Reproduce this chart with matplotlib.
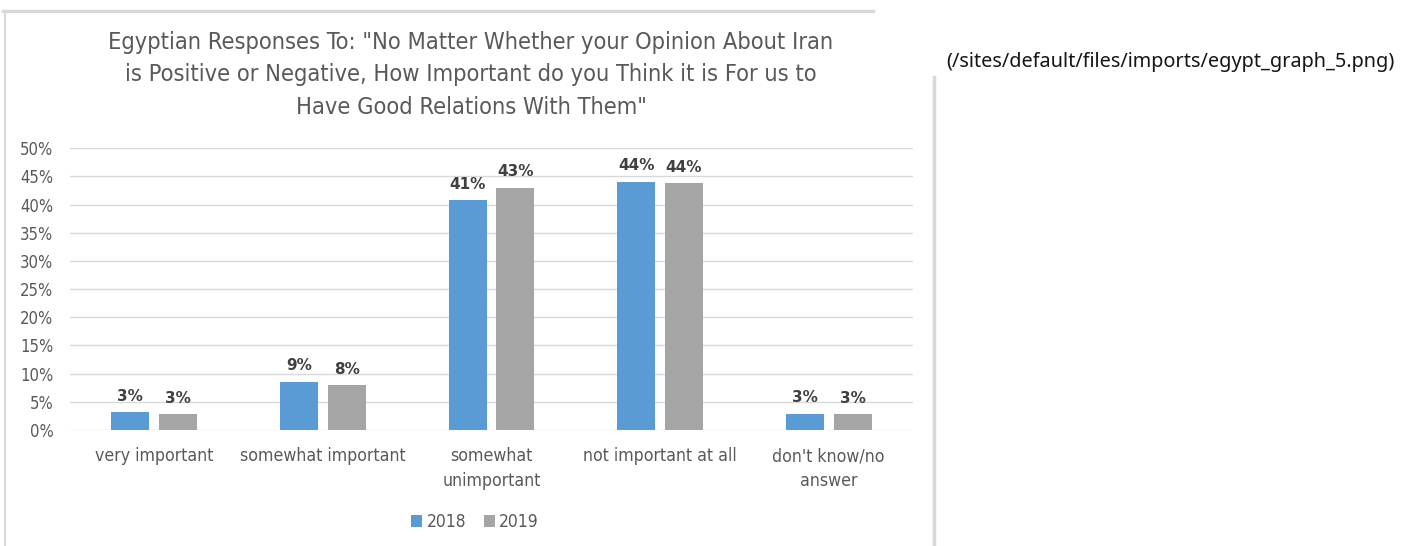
import matplotlib
matplotlib.use('Agg')
import matplotlib.pyplot as plt
from matplotlib.lines import Line2D
import numpy as np

categories = ['very important', 'somewhat important', 'somewhat\nunimportant',
              'not important at all', "don't know/no\nanswer"]
series_names = ['2018', '2019']
values_2018 = [3.2, 8.6, 40.8, 44.1, 2.9]
values_2019 = [2.8, 8.0, 43.0, 43.8, 2.8]
yticks = [0, 5, 10, 15, 20, 25, 30, 35, 40, 45, 50]
colors = ('#5b9bd5', '#a5a5a5')

title = ('Egyptian Responses To: "No Matter Whether your Opinion About Iran\n'
         'is Positive or Negative, How Important do you Think it is For us to\n'
         'Have Good Relations With Them"')
side_text = '(/sites/default/files/imports/egypt_graph_5.png)'

gray_txt = '#595959'
cond = dict(family='DejaVu Sans', stretch='condensed')

W, H = 1416, 546
fig = plt.figure(figsize=(W / 100, H / 100), dpi=100)

# frame of the chart picture
fig.add_artist(Line2D([3 / W, 873 / W], [1 - 11 / H, 1 - 11 / H], color='#d6dadd', lw=2.5))
fig.add_artist(Line2D([5 / W, 5 / W], [0, 1 - 11 / H], color='#d6dadd', lw=1.5))
fig.add_artist(Line2D([934 / W, 934 / W], [0, 1 - 77 / H], color='#d6dadd', lw=2.5))

ax = fig.add_axes([70 / W, 1 - 430 / H, 843 / W, (430 - 148.3) / H])

x = np.arange(len(categories))
w = 0.225
off = 0.142
bars = []
for vals, c, s in zip((values_2018, values_2019), colors, (-off, off)):
    b = ax.bar(x + s, vals, width=w, color=c, zorder=3)
    bars.append(b)
    for xi, v in zip(x + s, vals):
        ax.annotate(f'{round(v)}%', (xi, v), xytext=(0, 6), textcoords='offset points',
                    ha='center', va='bottom', fontsize=11, fontweight='bold',
                    color='#404040', zorder=4)

ax.set_xlim(-0.5, len(categories) - 0.5)
ax.set_ylim(0, 50)
ax.set_yticks(yticks)
ax.set_yticklabels([f'{t}%' for t in yticks], fontsize=12, color=gray_txt, **cond)
ax.set_xticks(x)
ax.set_xticklabels(categories, fontsize=12.7, color=gray_txt, linespacing=1.5, **cond)
ax.tick_params(length=0)
ax.tick_params(axis='y', pad=12)
ax.tick_params(axis='x', pad=12.5)
ax.grid(axis='y', color='#d9d9d9', lw=1, zorder=0)
for sp in ax.spines.values():
    sp.set_visible(False)

fig.text(471 / W, 1 - 75 / H, title, ha='center', va='center', fontsize=16.9,
         color=gray_txt, linespacing=1.5, **cond)

leg = fig.legend(bars, series_names, loc='center', bbox_to_anchor=(475 / W, 1 - 522 / H),
                 ncol=2, frameon=False, handlelength=0.65, handleheight=0.65,
                 handletextpad=0.25, columnspacing=1.0,
                 prop=dict(size=12.5, **cond))
for t in leg.get_texts():
    t.set_color(gray_txt)

fig.text(946 / W, 1 - 62 / H, side_text, ha='left', va='center', fontsize=14.3,
         color='#161616', family='Noto Sans')

fig.savefig('out.png', dpi=100)
